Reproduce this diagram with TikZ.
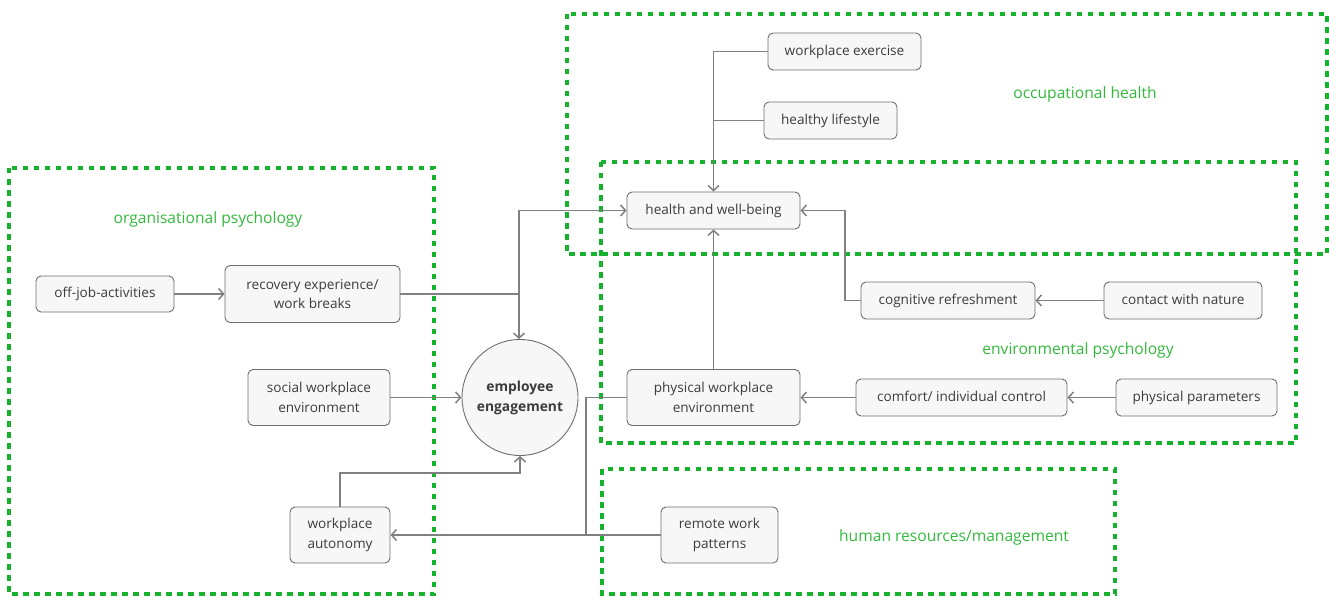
\documentclass[tikz,border=0pt]{standalone}
\usepackage{fontspec}
\setmainfont{Open Sans}
\usetikzlibrary{arrows.meta}
\definecolor{grn}{RGB}{22,178,46}
\definecolor{grntxt}{RGB}{50,185,60}
\definecolor{conn}{RGB}{128,128,128}
\definecolor{bx}{RGB}{247,247,247}
\definecolor{bxd}{RGB}{110,110,110}
\definecolor{txt}{RGB}{60,60,60}
\tikzset{
  box/.style={draw=bxd, fill=bx, rounded corners=5pt, line width=0.9pt, text=txt,
    font=\fontsize{13.6}{19.5}\selectfont, align=center, inner sep=0pt},
  onebox/.style={box, text height=1.0em, text depth=0.24em},
  area/.style={draw=grn, line width=4.5pt, dash pattern=on 5.5pt off 5.5pt},
  arealabel/.style={text=grntxt, font=\fontsize{15.6}{19}\selectfont},
  conn/.style={draw=conn, line width=1.5pt},
  arr/.style={conn, -{Straight Barb[length=5pt,width=11pt,line width=1.5pt]}},
}
\begin{document}
\begin{tikzpicture}[x=1pt,y=-1pt]
\useasboundingbox (0,0) rectangle (1329,596);
% areas
\draw[area] (567,14) rectangle (1327,254);
\draw[area] (601,162) rectangle (1296,443);
\draw[area] (9,168) rectangle (434,594);
\draw[area] (602,469) rectangle (1115,594);
\node[arealabel] (lOH) at (1085,94) {occupational health};
\node[arealabel] (lEP) at (1078,350) {environmental psychology};
\node[arealabel] (lOP) at (208,219) {organisational psychology};
\node[arealabel] (lHR) at (954,537) {human resources/management};
% nodes
\node[onebox, minimum width=153pt, minimum height=37pt] (we) at (844.5,51.5) {workplace exercise};
\node[onebox, minimum width=133pt, minimum height=37pt] (hl) at (830.5,120.5) {healthy lifestyle};
\node[onebox, minimum width=173pt, minimum height=37pt] (hw) at (713.5,210.5) {health and well-being};
\node[onebox, minimum width=174pt, minimum height=37pt] (cr) at (948,300.5) {cognitive refreshment};
\node[onebox, minimum width=158pt, minimum height=37pt] (cn) at (1183,300.5) {contact with nature};
\node[onebox, minimum width=211pt, minimum height=37pt] (cic) at (961.5,397.5) {comfort/ individual control};
\node[onebox, minimum width=161pt, minimum height=37pt] (pp) at (1196.5,397.5) {physical parameters};
\node[box, minimum width=173pt, minimum height=56pt] (pwe) at (713.5,397.5) {physical workplace\\environment};
\node[draw=bxd, fill=bx, circle, minimum size=116pt, inner sep=0pt, line width=0.9pt, text=txt,
  font=\fontsize{13.8}{20}\selectfont\bfseries, align=center] (ee) at (520,397.5) {employee\\engagement};
\node[box, minimum width=142pt, minimum height=56pt] (swe) at (319,397.5) {social workplace\\environment};
\node[box, minimum width=175pt, minimum height=57pt] (re) at (312.5,294) {recovery experience/\\work breaks};
\node[onebox, minimum width=138pt, minimum height=36pt] (oja) at (105,294) {off-job-activities};
\node[box, minimum width=100pt, minimum height=56pt] (wa) at (340,535) {workplace\\autonomy};
\node[box, minimum width=117pt, minimum height=56pt] (rwp) at (719.5,535) {remote work\\patterns};
% helper coordinates
\coordinate (j1) at (519,294);
\coordinate (j2) at (586,535);
% connectors
\draw[arr] (we.west) -- (713.5,51.5) -- (hw.north);
\draw[conn] (hl.west) -- (713.5,120.5);
\draw[arr] (oja) -- (re);
\draw[conn] (re.east) -- (j1);
\draw[arr] (j1) |- (hw.west);
\draw[arr] (j1) -- (j1 |- ee.north);
\draw[arr] (swe) -- (ee);
\draw[arr] (pwe) -- (hw);
\draw[arr] (cr.west) -- (845,300.5) |- (hw.east);
\draw[arr] (cn) -- (cr);
\draw[arr] (pp) -- (cic);
\draw[arr] (cic) -- (pwe);
\draw[conn] (pwe.west) -| (j2);
\draw[arr] (rwp.west) -- (wa.east);
\draw[arr] (wa.north) -- (340,473) -| (ee.south);
\end{tikzpicture}
\end{document}
